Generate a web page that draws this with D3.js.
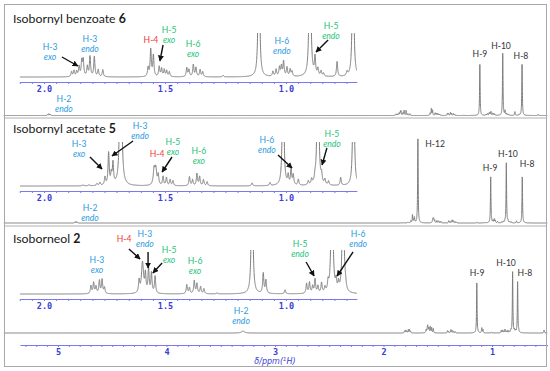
<!DOCTYPE html>
<html><head><meta charset="utf-8">
<script src="https://cdn.jsdelivr.net/npm/d3@7"></script>
<style>body{margin:0;background:#fff}svg{display:block}</style>
</head><body>
<svg id="c" width="550" height="371"></svg>
<script>
// ---------------- DATA ----------------
const compoundNames = ["Isobornyl benzoate", "Isobornyl acetate", "Isoborneol"];
const compoundNumbers = ["6", "5", "2"];
// [ppm, intensity(, linewidth ppm)]
const peaks6 = [
  [5.095,5],[5.083,7],[5.071,5],
  [1.886,5],[1.876,6],[1.865,5],[1.855,10],[1.844,15],[1.838,16],[1.821,10],[1.810,20],[1.792,20],[1.776,7],[1.757,7],
  [1.570,9],[1.559,27],[1.548,21],
  [1.524,10],[1.514,8],[1.503,7],[1.493,6],[1.482,5],
  [1.410,9],[1.401,7],[1.383,12],[1.372,9],[1.355,7],[1.344,5],
  [1.260,1.5],
  [1.112,204],
  [1.054,5],[1.041,7],[1.027,9],[1.019,10],[1.010,15],[0.996,9],[0.983,7],[0.975,5],
  [0.901,248],
  [0.880,18],[0.868,7],[0.855,5],[0.845,3],
  [0.789,15],[0.748,4],
  [0.723,204],
  [0.575,4]
];
const peaks5 = [
  [4.845,4],[4.834,6],[4.823,4],
  [1.839,1],[1.814,1],[1.781,2],[1.769,3],[1.748,8],[1.733,32],[1.722,10],[1.715,21],
  [1.683,336],
  [1.545,16,0.004],[1.538,16,0.004],[1.528,10],
  [1.508,9],[1.494,8],[1.479,6],[1.467,5],
  [1.399,9],[1.386,6],[1.368,12],[1.357,9],[1.341,6],[1.326,4],
  [1.140,3],[1.066,3],
  [1.012,184],
  [0.991,9],[0.979,15],[0.970,10],[0.949,6],
  [0.908,4],[0.894,5],[0.880,5],
  [0.868,240],
  [0.853,8],[0.839,5],[0.824,4],
  [0.774,8],
  [0.721,184]
];
const peaks2 = [
  [3.295,8,0.015],
  [1.806,8],[1.795,11],[1.785,7],[1.771,13],[1.760,14],[1.750,6],
  [1.607,12],[1.593,31,0.005],[1.581,18],[1.568,24],[1.556,20],[1.541,17],
  [1.410,9],[1.399,6],[1.379,13],[1.368,10],[1.353,7],[1.339,5],
  [1.285,1],
  [1.140,200],
  [1.094,20],[1.083,13],
  [1.004,4],
  [0.915,10],[0.903,11],[0.890,7],[0.880,14],[0.868,7],[0.853,10],[0.839,5],[0.826,9],
  [0.810,244],
  [0.793,10],[0.783,8],
  [0.764,204],[0.754,5],
  [0.520,12]
];
const mainTickLabels = [5, 4, 3, 2, 1];
const insetTickLabels = [2.0, 1.5, 1.0];

// annotations: label, sub, colour key, scale, ppm, height of first line above baseline (px)
const labels6 = [
  ["H-3","exo","b","inset",1.975,27],["H-3","endo","b","inset",1.810,35],["H-4","","r","inset",1.558,34],
  ["H-5","exo","g","inset",1.483,44],["H-6","exo","g","inset",1.384,30],["H-6","endo","b","inset",1.017,33],
  ["H-5","endo","g","inset",0.814,48],["H-2","endo","b","main",4.945,14],
  ["H-9","","k","main",1.111,58.5],["H-10","","k","main",0.917,66.5],["H-8","","k","main",0.733,56.5]
];
const arrows6 = [[1.926,20,1.860,11],[1.508,32,1.521,16],[0.826,37,0.876,25]];
const labels5 = [
  ["H-3","exo","b","inset",1.855,39],["H-3","endo","b","inset",1.603,57],["H-4","","r","inset",1.533,29],
  ["H-5","exo","g","inset",1.467,41],["H-6","exo","g","inset",1.360,32],["H-6","endo","b","inset",1.079,43],
  ["H-5","endo","g","inset",0.810,49],["H-2","endo","b","main",4.705,12],
  ["H-12","","k","main",1.525,76],["H-9","","k","main",1.018,52],["H-10","","k","main",0.853,66],["H-8","","k","main",0.677,56]
];
const arrows5 = [[1.810,29,1.760,17],[1.632,45,1.719,30],[1.471,29,1.512,14],[1.033,31,0.975,18],[0.831,38,0.851,21]];
const labels2 = [
  ["H-4","","r","inset",1.669,52],["H-3","endo","b","inset",1.583,57],["H-5","exo","g","inset",1.483,41],
  ["H-3","exo","b","inset",1.781,31],["H-6","exo","g","inset",1.376,30],["H-5","endo","g","inset",0.942,47],
  ["H-6","endo","b","inset",0.702,57],["H-2","endo","b","main",3.313,19],
  ["H-9","","k","main",1.138,57],["H-10","","k","main",0.871,67],["H-8","","k","main",0.696,57]
];
const arrows2 = [[1.649,45,1.603,35],[1.570,42,1.570,26],[1.512,31,1.550,21],[0.917,32,0.884,18],[0.723,42,0.789,18]];

// ---------------- LAYOUT ----------------
const W = 550, H = 371;
const colours = {b:"#2b9be0", g:"#1fc478", r:"#f23b3b", k:"#333333"};
const axisBlue = "#7a7af0", axisText = "#3c3cd6", lineGrey = "#7d7d7d";
const panels = [
  {peaks:peaks6, labels:labels6, arrows:arrows6, titleY:22.5, insetBase:77, insetAxis:82, mainBase:115.5},
  {peaks:peaks5, labels:labels5, arrows:arrows5, titleY:133, insetBase:186, insetAxis:191, mainBase:223},
  {peaks:peaks2, labels:labels2, arrows:arrows2, titleY:243, insetBase:294, insetAxis:299, mainBase:333}
];
const mainX = d3.scaleLinear().domain([5, 1]).range([58, 492]);
const insetX = d3.scaleLinear().domain([2.0, 1.0]).range([44, 286]);
const insetLo = 0.707, insetHi = 2.1, clipH = 44;
const mainRatio = 4; // intensity units per main px
const LW = 0.0028;

const svg = d3.select("#c");
const defs = svg.append("defs");
defs.append("marker").attr("id","ah").attr("viewBox","0 0 10 10").attr("refX",9).attr("refY",5)
  .attr("markerWidth",6).attr("markerHeight",6).attr("markerUnits","userSpaceOnUse").attr("orient","auto")
  .append("path").attr("d","M0,0 L10,5 L0,10 z").attr("fill","#111");

svg.append("rect").attr("x",0).attr("y",0).attr("width",W).attr("height",H).attr("fill","#fff");

function spectrum(peaks, lo, hi, step) {
  const pts = [];
  for (let p = hi; p >= lo - 1e-9; p -= step) {
    let s = 0;
    for (const pk of peaks) { const w = pk[2] || LW; const d = (p - pk[0]) / w; s += pk[1] / (1 + d * d); }
    pts.push([p, s]);
  }
  return pts;
}

const font = "Lato, 'Segoe UI', sans-serif";

panels.forEach((P, i) => {
  const g = svg.append("g");
  const t = g.append("text").attr("x", 13).attr("y", P.titleY).attr("font-family", font)
    .attr("font-size", 12.3).attr("fill", "#1a1a1a");
  t.append("tspan").text(compoundNames[i] + " ");
  t.append("tspan").attr("font-weight", "bold").text(compoundNumbers[i]);

  const yMain = d3.scaleLinear().domain([0, mainRatio]).range([P.mainBase, P.mainBase - 1]);
  const mainPts = spectrum(P.peaks, 0.49, 5.5, 0.0005);
  g.append("path").attr("d", d3.line().x(d => mainX(d[0])).y(d => yMain(d[1]))(mainPts))
    .attr("fill", "none").attr("stroke", lineGrey).attr("stroke-width", 1);

  const yIn = d3.scaleLinear().domain([0, 1]).range([P.insetBase, P.insetBase - 1]);
  defs.append("clipPath").attr("id", "clip" + i).append("rect")
    .attr("x", insetX(insetHi)).attr("y", P.insetBase - clipH)
    .attr("width", insetX(insetLo) - insetX(insetHi)).attr("height", clipH + 4);
  const inPts = spectrum(P.peaks, insetLo, insetHi, 0.0003);
  g.append("path").attr("clip-path", `url(#clip${i})`)
    .attr("d", d3.line().x(d => insetX(d[0])).y(d => yIn(d[1]))(inPts))
    .attr("fill", "none").attr("stroke", lineGrey).attr("stroke-width", 1);

  const axScale = d3.scaleLinear().domain([insetHi, insetLo]).range([insetX(insetHi), insetX(insetLo)]);
  const tv = d3.range(0, 28).map(k => +(2.1 - k * 0.05).toFixed(2)).filter(v => v >= insetLo);
  const ax = g.append("g").attr("transform", `translate(0,${P.insetAxis})`)
    .call(d3.axisBottom(axScale).tickValues(tv).tickSize(2).tickSizeOuter(0).tickPadding(2)
      .tickFormat(v => insetTickLabels.some(l => Math.abs(l - v) < 1e-6) ? v.toFixed(1) : ""));
  ax.select(".domain").attr("stroke", axisBlue);
  ax.selectAll(".tick line").attr("stroke", axisBlue);
  ax.selectAll(".tick text").attr("fill", axisText).attr("font-family", "'DejaVu Sans Mono', monospace")
    .attr("font-weight", "bold").attr("font-size", 8.5);

  P.labels.forEach(L => {
    const x = L[3] === "inset" ? insetX(L[4]) : mainX(L[4]);
    const base = L[3] === "inset" ? P.insetBase : P.mainBase;
    const y = base - L[5];
    g.append("text").attr("x", x).attr("y", y).attr("text-anchor", "middle")
      .attr("font-family", font).attr("font-size", 8.6).attr("fill", colours[L[2]]).text(L[0]);
    if (L[1]) g.append("text").attr("x", x).attr("y", y + 10.4).attr("text-anchor", "middle")
      .attr("font-family", font).attr("font-size", 8.6).attr("font-style", "italic")
      .attr("fill", colours[L[2]]).text(L[1]);
  });
  P.arrows.forEach(A => {
    g.append("line").attr("x1", insetX(A[0])).attr("y1", P.insetBase - A[1])
      .attr("x2", insetX(A[2])).attr("y2", P.insetBase - A[3])
      .attr("stroke", "#111").attr("stroke-width", 1.4).attr("marker-end", "url(#ah)");
  });
});

[118, 226].forEach(y => svg.append("line").attr("x1", 4).attr("x2", 547).attr("y1", y).attr("y2", y)
  .attr("stroke", "#b0b0b0").attr("stroke-width", 1));

const mainAxScale = d3.scaleLinear().domain([5.35, 0.49]).range([mainX(5.35), mainX(0.49)]);
const mtv = d3.range(0, 49).map(k => +(5.3 - k * 0.1).toFixed(1)).filter(v => v >= 0.5);
const max = svg.append("g").attr("transform", "translate(0,345)")
  .call(d3.axisBottom(mainAxScale).tickValues(mtv).tickSize(2).tickSizeOuter(0).tickPadding(2)
    .tickFormat(v => mainTickLabels.includes(v) ? String(v) : ""));
max.select(".domain").attr("stroke", axisBlue);
max.selectAll(".tick line").attr("stroke", axisBlue);
max.selectAll(".tick text").attr("fill", axisText).attr("font-family", "'DejaVu Sans Mono', monospace")
  .attr("font-weight", "bold").attr("font-size", 8.5);
const xl = svg.append("text").attr("x", 275).attr("y", 364).attr("text-anchor", "middle")
  .attr("font-family", "'DejaVu Sans', sans-serif").attr("font-size", 8).attr("font-style", "italic").attr("fill", axisText);
xl.append("tspan").text("δ/ppm(");
xl.append("tspan").attr("font-size", 5.5).attr("dy", -3).text("1");
xl.append("tspan").attr("dy", 3).text("H)");

svg.append("rect").attr("x", 4.5).attr("y", 4.5).attr("width", 542).attr("height", 362)
  .attr("fill", "none").attr("stroke", "#a8a8a8").attr("stroke-width", 1);
</script>
</body></html>
